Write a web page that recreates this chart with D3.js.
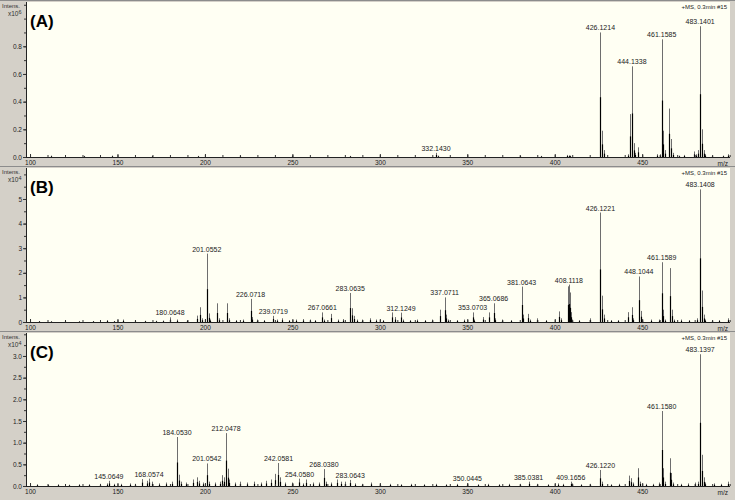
<!DOCTYPE html>
<html>
<head>
<meta charset="utf-8">
<script src="https://cdn.jsdelivr.net/npm/d3@7"></script>
<style>
  body { margin: 0; background: #d4d0c8; }
  svg { display: block; font-family: "Liberation Sans", Arial, sans-serif; }
</style>
</head>
<body>
<svg id="chart" width="735" height="500"></svg>
<script>
// m/z axis shared by all three spectra
const xTickLabels = [100, 150, 200, 250, 300, 350, 400, 450];
const xMinorTicks = d3.range(100, 501, 10);

// (A) intensities x10^6 : [m/z, intensity]
const peaksA = [
  [112, 0.01], [131, 0.008], [147, 0.01], [170, 0.008], [196, 0.008], [220, 0.008],
  [250, 0.008], [283, 0.008], [332.143, 0.03], [333.1, 0.01], [380, 0.01], [392, 0.008],
  [407, 0.015], [408, 0.012], [409, 0.01],
  [426.1214, 0.90], [427.12, 0.19], [428.12, 0.05],
  [442.1, 0.02], [443.13, 0.31], [444.1338, 0.655], [445.13, 0.10], [446.1, 0.03], [447.6, 0.07],
  [458.5, 0.02], [460.2, 0.02], [461.1585, 0.85], [462.16, 0.19], [463.2, 0.05],
  [465.6, 0.35], [466.6, 0.13], [467.6, 0.03], [471, 0.01], [474, 0.015],
  [479.5, 0.04], [480.6, 0.02], [482.1, 0.05], [483.1401, 0.945], [484.14, 0.20], [485.14, 0.05],
  [486, 0.02], [490, 0.01], [496, 0.01], [499, 0.02]
];
const labelsA = [332.1430, 426.1214, 444.1338, 461.1585, 483.1401];
const yTicksA = [0, 0.2, 0.4, 0.6, 0.8];

// (B) intensities x10^4
const peaksB = [
  [105, 0.04], [112, 0.03], [120, 0.04], [128, 0.03], [136, 0.04], [144.2, 0.08], [148, 0.04],
  [153, 0.1], [160, 0.04], [166, 0.05], [172, 0.05], [176, 0.06],
  [180.0648, 0.19], [184, 0.1], [190, 0.08], [195.3, 0.26], [197.2, 0.6], [198.2, 0.15],
  [201.0552, 2.78], [202.06, 0.35], [203.1, 0.1], [207.1, 0.76], [208.1, 0.15],
  [212.5, 0.76], [213.5, 0.15], [218, 0.08], [222, 0.1],
  [226.0718, 0.94], [227.07, 0.2], [230, 0.1], [234, 0.08], [239.0719, 0.25], [241, 0.1],
  [244.3, 0.15], [248, 0.08], [252, 0.1], [256, 0.12], [260, 0.1], [263, 0.08],
  [267.0661, 0.39], [268.07, 0.1], [272.3, 0.33], [276, 0.1], [279, 0.12],
  [283.0635, 1.18], [284.3, 0.56], [285.3, 0.25], [287, 0.1], [290, 0.1], [294.4, 0.15],
  [298, 0.1], [302, 0.08], [306.8, 0.39], [308.5, 0.2], [312.1249, 0.38], [313.2, 0.1],
  [317, 0.08], [321, 0.1], [326, 0.08], [330, 0.1],
  [334.6, 0.5], [337.0711, 1.0], [338.07, 0.3], [339, 0.1], [344, 0.08], [348, 0.1],
  [353.0703, 0.39], [354.07, 0.1], [358.8, 0.2], [362.6, 0.39], [365.0686, 0.76], [366.07, 0.15],
  [370, 0.1], [375, 0.08], [381.0643, 1.44], [382.07, 0.3], [384.9, 0.33], [386, 0.1],
  [390, 0.15], [395, 0.08], [402.4, 0.43], [403.4, 0.15],
  [407.8, 1.45], [408.1118, 1.52], [408.5, 1.2], [409.1, 0.4], [410.1, 0.1], [414, 0.08], [420.2, 0.15],
  [426.1221, 4.45], [427.12, 1.07], [428.12, 0.3], [432, 0.08], [436, 0.08],
  [442.1, 0.4], [444, 0.6], [445, 0.15], [448.1044, 1.85], [449.1, 0.45], [450.1, 0.1], [455, 0.1],
  [459.5, 0.1], [461.1589, 2.43], [462.16, 0.5], [463.2, 0.1], [466.1, 2.19], [467.1, 0.5],
  [468, 0.1], [472, 0.1], [477, 0.08], [481.5, 0.15],
  [483.1408, 5.39], [484.14, 1.28], [485.14, 0.3], [486, 0.1], [490, 0.08], [494, 0.08], [499, 0.15]
];
const labelsB = [180.0648, 201.0552, 226.0718, 239.0719, 267.0661, 283.0635, 312.1249, 337.0711,
  353.0703, 365.0686, 381.0643, 408.1118, 426.1221, 448.1044, 461.1589, 483.1408];
const yTicksB = [0, 1, 2, 3, 4, 5];

// (C) intensities x10^4
const peaksC = [
  [104, 0.04], [110, 0.03], [116, 0.04], [122, 0.03], [128, 0.04], [134, 0.04], [140, 0.05],
  [144.2, 0.06], [145.0649, 0.12], [148, 0.05], [152, 0.05], [157, 0.06], [160, 0.05],
  [163.8, 0.16], [166.7, 0.12], [168.0574, 0.17], [170, 0.1], [174, 0.06], [178, 0.08], [181, 0.1],
  [184.053, 1.13], [185.05, 0.26], [186.05, 0.1], [189, 0.08], [193, 0.15], [195.3, 0.2],
  [196.5, 0.12], [199, 0.08], [201.0542, 0.52], [202.05, 0.1], [206, 0.08], [208.6, 0.1],
  [210, 0.25], [211, 0.2], [212.0478, 1.22], [213.05, 0.4], [214, 0.15], [217, 0.08], [220, 0.1],
  [224, 0.08], [228, 0.1], [232, 0.08], [235, 0.12], [238, 0.15], [240, 0.28],
  [242.0581, 0.53], [243.06, 0.2], [246, 0.08], [250, 0.08], [254.058, 0.17], [256, 0.06],
  [258, 0.15], [262, 0.08], [265, 0.08], [268.038, 0.39], [269.04, 0.1], [272, 0.08],
  [275.3, 0.15], [278, 0.1], [280, 0.1], [283.0643, 0.14], [286, 0.06], [290, 0.05], [295, 0.08],
  [300, 0.04], [306, 0.05], [312, 0.04], [318, 0.05], [325, 0.04], [332, 0.05], [338, 0.04],
  [344, 0.05], [350.0445, 0.06], [356, 0.04], [362, 0.05], [368, 0.04], [374, 0.05], [380, 0.05],
  [385.0381, 0.1], [390, 0.05], [396, 0.04], [402, 0.06], [405, 0.05], [409.1656, 0.1],
  [410, 0.06], [415, 0.04], [420, 0.05], [426.122, 0.37], [427.12, 0.1], [432, 0.04], [437, 0.05],
  [442.5, 0.24], [443.5, 0.18], [444.5, 0.08], [447.6, 0.41], [448.6, 0.1], [452, 0.05],
  [456, 0.05], [459.5, 0.08], [461.158, 1.73], [462.16, 0.41], [463.16, 0.1],
  [465.7, 0.64], [466.7, 0.3], [467.7, 0.08], [472, 0.05], [476, 0.06], [480, 0.08], [481.8, 0.1],
  [483.1397, 3.04], [484.14, 0.72], [485.14, 0.2], [486, 0.08], [491, 0.06], [495, 0.05], [499, 0.1]
];
const labelsC = [145.0649, 168.0574, 184.0530, 201.0542, 212.0478, 242.0581, 254.0580, 268.0380,
  283.0643, 350.0445, 385.0381, 409.1656, 426.1220, 461.1580, 483.1397];
const yTicksC = [0, 0.5, 1, 1.5, 2, 2.5, 3];

const panels = [
  { tag: "(A)", peaks: peaksA, labels: labelsA, ticks: yTicksA, minor: 0.1, fmt: ".1f", yMax: 1.12, exp: "6", top: 2, bottom: 157 },
  { tag: "(B)", peaks: peaksB, labels: labelsB, ticks: yTicksB, minor: 0.5, fmt: "d", yMax: 6.26, exp: "4", top: 168, bottom: 322 },
  { tag: "(C)", peaks: peaksC, labels: labelsC, ticks: yTicksC, minor: 0.25, fmt: ".1f", yMax: 3.53, exp: "4", top: 333, bottom: 486 }
];

const svg = d3.select("#chart");
const left = 26, right = 730;
const x = d3.scaleLinear().domain([97.7, 500.2]).range([left, right]);
const px = (v) => Math.round(x(v)) + 0.5;

panels.forEach((p) => {
  const y = d3.scaleLinear().domain([0, p.yMax]).range([p.bottom, p.top]);
  const g = svg.append("g");

  // panel divider
  g.append("line")
    .attr("x1", 0).attr("x2", 735)
    .attr("y1", p.top - 1.5).attr("y2", p.top - 1.5)
    .attr("stroke", "#8c8c8c");

  g.append("rect")
    .attr("x", left).attr("y", p.top)
    .attr("width", right - left).attr("height", p.bottom - p.top)
    .attr("fill", "#fffff3");

  // spectrum sticks, grey apex and black body
  g.append("g").selectAll("line")
    .data(p.peaks)
    .join("line")
    .attr("x1", (d) => px(d[0])).attr("x2", (d) => px(d[0]))
    .attr("y1", y(0)).attr("y2", (d) => y(d[1]))
    .attr("stroke", "#6e6e6e").attr("stroke-width", 1);
  g.append("g").selectAll("line")
    .data(p.peaks)
    .join("line")
    .attr("x1", (d) => px(d[0])).attr("x2", (d) => px(d[0]))
    .attr("y1", y(0)).attr("y2", (d) => y(d[1] * 0.48))
    .attr("stroke", "#000").attr("stroke-width", 1.2);

  // peak labels
  g.append("g").selectAll("text")
    .data(p.labels)
    .join("text")
    .attr("x", (d) => x(d))
    .attr("y", (d) => {
      const pk = p.peaks.reduce((a, b) => Math.abs(b[0] - d) < Math.abs(a[0] - d) ? b : a);
      return y(pk[1]) - 2;
    })
    .attr("text-anchor", "middle")
    .attr("font-size", "7px")
    .attr("fill", "#222")
    .text((d) => d3.format(".4f")(d));

  // y axis
  g.append("g")
    .attr("transform", `translate(${left},0)`)
    .call(d3.axisLeft(y).tickValues(d3.range(0, p.yMax, p.minor)).tickSize(2).tickFormat(""))
    .call((a) => a.select(".domain").remove());
  g.append("g")
    .attr("transform", `translate(${left},0)`)
    .call(d3.axisLeft(y).tickValues(p.ticks).tickSizeInner(3).tickSizeOuter(0).tickPadding(1)
      .tickFormat(d3.format(p.fmt)))
    .call((a) => a.select(".domain").attr("d", `M0.5,${p.top}V${p.bottom}`));

  // x axis
  g.append("g")
    .attr("transform", `translate(0,${p.bottom})`)
    .call(d3.axisBottom(x).tickValues(xMinorTicks).tickSize(-2).tickFormat(""))
    .call((a) => a.select(".domain").remove());
  g.append("g")
    .attr("transform", `translate(0,${p.bottom})`)
    .call(d3.axisBottom(x).tickValues(xTickLabels).tickSizeInner(-3).tickSizeOuter(0).tickPadding(3))
    .call((a) => a.select(".domain").attr("d", `M${left},0.5H${right}`));

  g.selectAll(".tick text").attr("font-size", "6.5px").attr("fill", "#222");
  g.selectAll(".tick line").attr("stroke", "#333");
  g.selectAll(".domain").attr("stroke", "#222");

  g.append("text")
    .attr("x", 728).attr("y", p.bottom + 9)
    .attr("text-anchor", "end").attr("font-size", "6.5px").attr("fill", "#222")
    .text("m/z");

  // intensity caption
  g.append("text")
    .attr("x", 2).attr("y", p.top + 6)
    .attr("font-size", "6px").attr("fill", "#333")
    .text("Intens.");
  const cap = g.append("text")
    .attr("x", 8).attr("y", p.top + 14)
    .attr("font-size", "6.5px").attr("fill", "#333");
  cap.append("tspan").text("x10");
  cap.append("tspan").attr("dy", -2.5).attr("font-size", "5.5px").text(p.exp);

  g.append("text")
    .attr("x", 727).attr("y", p.top + 7)
    .attr("text-anchor", "end").attr("font-size", "6px").attr("fill", "#222")
    .text("+MS, 0.3min #15");

  g.append("text")
    .attr("x", 30).attr("y", p.top + 25)
    .attr("font-size", "17px").attr("font-weight", "bold").attr("fill", "#000")
    .text(p.tag);
});
</script>
</body>
</html>
